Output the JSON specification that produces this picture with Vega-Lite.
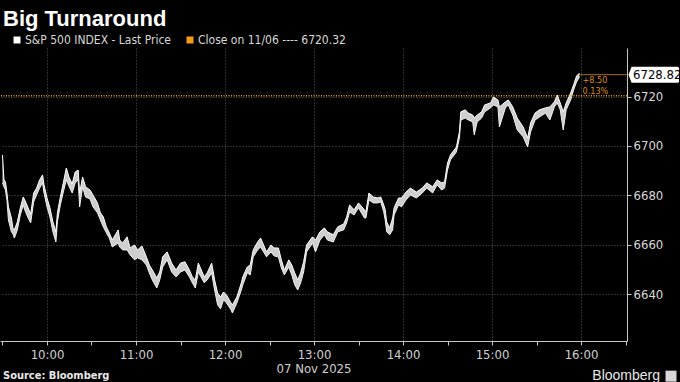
{
  "$schema": "https://vega.github.io/schema/vega-lite/v6.json",
  "width": 627,
  "height": 293,
  "autosize": {"type": "none"},
  "padding": {"left": 0, "top": 48, "right": 53, "bottom": 41},
  "background": "#000000",
  "config": {
    "view": {"stroke": null},
    "font": "Liberation Sans Narrow, DejaVu Sans Condensed, sans-serif"
  },
  "title": {
    "text": "Big Turnaround",
    "anchor": "start",
    "frame": "group",
    "orient": "top",
    "offset": 3,
    "dx": 3,
    "fontSize": 22,
    "fontWeight": "bold",
    "font": "Liberation Sans, Arial, sans-serif",
    "color": "#ffffff"
  },
  "datasets": {
    "price": [
      {"t": "2025-11-07T09:30", "hi": 6696.4, "lo": 6685.1},
      {"t": "2025-11-07T09:31", "hi": 6686.3, "lo": 6683.5},
      {"t": "2025-11-07T09:32", "hi": 6685.5, "lo": 6682.2},
      {"t": "2025-11-07T09:33", "hi": 6681.0, "lo": 6678.2},
      {"t": "2025-11-07T09:34", "hi": 6675.4, "lo": 6670.1},
      {"t": "2025-11-07T09:36", "hi": 6670.9, "lo": 6665.3},
      {"t": "2025-11-07T09:37", "hi": 6666.9, "lo": 6664.5},
      {"t": "2025-11-07T09:38", "hi": 6666.1, "lo": 6662.8},
      {"t": "2025-11-07T09:40", "hi": 6669.3, "lo": 6666.1},
      {"t": "2025-11-07T09:42", "hi": 6675.0, "lo": 6672.1},
      {"t": "2025-11-07T09:44", "hi": 6679.4, "lo": 6676.2},
      {"t": "2025-11-07T09:45", "hi": 6678.2, "lo": 6674.2},
      {"t": "2025-11-07T09:47", "hi": 6675.4, "lo": 6671.3},
      {"t": "2025-11-07T09:49", "hi": 6672.5, "lo": 6668.9},
      {"t": "2025-11-07T09:51", "hi": 6681.0, "lo": 6677.4},
      {"t": "2025-11-07T09:53", "hi": 6683.0, "lo": 6680.2},
      {"t": "2025-11-07T09:55", "hi": 6686.3, "lo": 6683.0},
      {"t": "2025-11-07T09:57", "hi": 6688.3, "lo": 6685.1},
      {"t": "2025-11-07T09:58", "hi": 6684.3, "lo": 6681.0},
      {"t": "2025-11-07T10:00", "hi": 6679.0, "lo": 6675.4},
      {"t": "2025-11-07T10:02", "hi": 6675.0, "lo": 6671.3},
      {"t": "2025-11-07T10:04", "hi": 6669.3, "lo": 6665.3},
      {"t": "2025-11-07T10:06", "hi": 6665.3, "lo": 6661.2},
      {"t": "2025-11-07T10:07", "hi": 6673.0, "lo": 6669.3},
      {"t": "2025-11-07T10:09", "hi": 6679.4, "lo": 6676.2},
      {"t": "2025-11-07T10:11", "hi": 6685.1, "lo": 6681.4},
      {"t": "2025-11-07T10:13", "hi": 6691.1, "lo": 6686.3},
      {"t": "2025-11-07T10:15", "hi": 6687.1, "lo": 6683.5},
      {"t": "2025-11-07T10:17", "hi": 6684.7, "lo": 6681.0},
      {"t": "2025-11-07T10:19", "hi": 6689.5, "lo": 6685.1},
      {"t": "2025-11-07T10:21", "hi": 6690.3, "lo": 6686.3},
      {"t": "2025-11-07T10:22", "hi": 6681.0, "lo": 6675.4},
      {"t": "2025-11-07T10:24", "hi": 6687.5, "lo": 6683.5},
      {"t": "2025-11-07T10:26", "hi": 6683.5, "lo": 6679.4},
      {"t": "2025-11-07T10:29", "hi": 6682.2, "lo": 6678.6},
      {"t": "2025-11-07T10:31", "hi": 6680.2, "lo": 6675.4},
      {"t": "2025-11-07T10:34", "hi": 6677.0, "lo": 6673.0},
      {"t": "2025-11-07T10:36", "hi": 6673.0, "lo": 6670.1},
      {"t": "2025-11-07T10:38", "hi": 6671.3, "lo": 6667.3},
      {"t": "2025-11-07T10:40", "hi": 6667.3, "lo": 6664.9},
      {"t": "2025-11-07T10:42", "hi": 6664.9, "lo": 6662.8},
      {"t": "2025-11-07T10:44", "hi": 6662.0, "lo": 6659.2},
      {"t": "2025-11-07T10:48", "hi": 6666.1, "lo": 6660.8},
      {"t": "2025-11-07T10:49", "hi": 6662.0, "lo": 6659.2},
      {"t": "2025-11-07T10:51", "hi": 6660.8, "lo": 6658.0},
      {"t": "2025-11-07T10:54", "hi": 6663.3, "lo": 6658.0},
      {"t": "2025-11-07T10:56", "hi": 6658.8, "lo": 6656.0},
      {"t": "2025-11-07T10:59", "hi": 6660.0, "lo": 6654.0},
      {"t": "2025-11-07T11:01", "hi": 6658.0, "lo": 6654.8},
      {"t": "2025-11-07T11:04", "hi": 6659.6, "lo": 6654.0},
      {"t": "2025-11-07T11:07", "hi": 6655.2, "lo": 6651.9},
      {"t": "2025-11-07T11:09", "hi": 6651.9, "lo": 6648.7},
      {"t": "2025-11-07T11:11", "hi": 6649.9, "lo": 6645.9},
      {"t": "2025-11-07T11:14", "hi": 6646.7, "lo": 6642.6},
      {"t": "2025-11-07T11:16", "hi": 6649.1, "lo": 6645.9},
      {"t": "2025-11-07T11:18", "hi": 6655.2, "lo": 6651.1},
      {"t": "2025-11-07T11:21", "hi": 6657.2, "lo": 6654.0},
      {"t": "2025-11-07T11:24", "hi": 6652.7, "lo": 6649.1},
      {"t": "2025-11-07T11:27", "hi": 6649.9, "lo": 6647.1},
      {"t": "2025-11-07T11:30", "hi": 6652.7, "lo": 6649.1},
      {"t": "2025-11-07T11:33", "hi": 6653.2, "lo": 6649.9},
      {"t": "2025-11-07T11:36", "hi": 6649.9, "lo": 6647.1},
      {"t": "2025-11-07T11:38", "hi": 6647.1, "lo": 6644.7},
      {"t": "2025-11-07T11:40", "hi": 6645.9, "lo": 6642.6},
      {"t": "2025-11-07T11:42", "hi": 6652.7, "lo": 6649.1},
      {"t": "2025-11-07T11:46", "hi": 6647.1, "lo": 6644.7},
      {"t": "2025-11-07T11:48", "hi": 6648.7, "lo": 6645.9},
      {"t": "2025-11-07T11:51", "hi": 6652.7, "lo": 6648.7},
      {"t": "2025-11-07T11:53", "hi": 6645.9, "lo": 6641.8},
      {"t": "2025-11-07T11:55", "hi": 6640.6, "lo": 6635.8},
      {"t": "2025-11-07T11:57", "hi": 6639.0, "lo": 6634.2},
      {"t": "2025-11-07T11:59", "hi": 6641.0, "lo": 6637.8},
      {"t": "2025-11-07T12:01", "hi": 6639.8, "lo": 6636.6},
      {"t": "2025-11-07T12:04", "hi": 6636.6, "lo": 6633.8},
      {"t": "2025-11-07T12:05", "hi": 6635.8, "lo": 6632.5},
      {"t": "2025-11-07T12:08", "hi": 6639.0, "lo": 6636.6},
      {"t": "2025-11-07T12:11", "hi": 6644.7, "lo": 6641.8},
      {"t": "2025-11-07T12:12", "hi": 6647.1, "lo": 6643.9},
      {"t": "2025-11-07T12:15", "hi": 6651.1, "lo": 6648.7},
      {"t": "2025-11-07T12:17", "hi": 6651.9, "lo": 6647.9},
      {"t": "2025-11-07T12:19", "hi": 6658.0, "lo": 6655.2},
      {"t": "2025-11-07T12:22", "hi": 6661.2, "lo": 6658.0},
      {"t": "2025-11-07T12:24", "hi": 6662.8, "lo": 6659.2},
      {"t": "2025-11-07T12:26", "hi": 6660.0, "lo": 6657.2},
      {"t": "2025-11-07T12:28", "hi": 6657.2, "lo": 6655.2},
      {"t": "2025-11-07T12:31", "hi": 6660.0, "lo": 6657.2},
      {"t": "2025-11-07T12:33", "hi": 6658.8, "lo": 6655.6},
      {"t": "2025-11-07T12:36", "hi": 6658.8, "lo": 6655.2},
      {"t": "2025-11-07T12:38", "hi": 6654.0, "lo": 6650.7},
      {"t": "2025-11-07T12:40", "hi": 6649.9, "lo": 6647.9},
      {"t": "2025-11-07T12:43", "hi": 6654.0, "lo": 6651.1},
      {"t": "2025-11-07T12:45", "hi": 6651.9, "lo": 6647.9},
      {"t": "2025-11-07T12:47", "hi": 6648.7, "lo": 6643.9},
      {"t": "2025-11-07T12:49", "hi": 6645.9, "lo": 6641.8},
      {"t": "2025-11-07T12:51", "hi": 6648.7, "lo": 6644.7},
      {"t": "2025-11-07T12:53", "hi": 6653.2, "lo": 6649.1},
      {"t": "2025-11-07T12:55", "hi": 6660.0, "lo": 6657.2},
      {"t": "2025-11-07T12:59", "hi": 6663.3, "lo": 6660.8},
      {"t": "2025-11-07T13:01", "hi": 6662.0, "lo": 6657.2},
      {"t": "2025-11-07T13:04", "hi": 6665.3, "lo": 6662.0},
      {"t": "2025-11-07T13:07", "hi": 6666.9, "lo": 6664.1},
      {"t": "2025-11-07T13:09", "hi": 6665.3, "lo": 6662.0},
      {"t": "2025-11-07T13:13", "hi": 6664.1, "lo": 6661.2},
      {"t": "2025-11-07T13:16", "hi": 6667.3, "lo": 6665.3},
      {"t": "2025-11-07T13:20", "hi": 6668.5, "lo": 6666.1},
      {"t": "2025-11-07T13:22", "hi": 6671.3, "lo": 6668.9},
      {"t": "2025-11-07T13:24", "hi": 6676.2, "lo": 6673.4},
      {"t": "2025-11-07T13:27", "hi": 6674.2, "lo": 6672.1},
      {"t": "2025-11-07T13:30", "hi": 6677.0, "lo": 6675.0},
      {"t": "2025-11-07T13:34", "hi": 6674.2, "lo": 6670.9},
      {"t": "2025-11-07T13:35", "hi": 6673.4, "lo": 6670.9},
      {"t": "2025-11-07T13:37", "hi": 6681.0, "lo": 6678.2},
      {"t": "2025-11-07T13:40", "hi": 6679.4, "lo": 6677.0},
      {"t": "2025-11-07T13:43", "hi": 6679.0, "lo": 6677.0},
      {"t": "2025-11-07T13:45", "hi": 6679.4, "lo": 6677.4},
      {"t": "2025-11-07T13:47", "hi": 6676.2, "lo": 6673.4},
      {"t": "2025-11-07T13:48", "hi": 6674.2, "lo": 6670.1},
      {"t": "2025-11-07T13:49", "hi": 6669.3, "lo": 6665.3},
      {"t": "2025-11-07T13:51", "hi": 6666.9, "lo": 6664.1},
      {"t": "2025-11-07T13:53", "hi": 6670.9, "lo": 6666.1},
      {"t": "2025-11-07T13:54", "hi": 6675.0, "lo": 6672.1},
      {"t": "2025-11-07T13:57", "hi": 6679.0, "lo": 6676.2},
      {"t": "2025-11-07T13:59", "hi": 6679.0, "lo": 6675.4},
      {"t": "2025-11-07T14:02", "hi": 6681.4, "lo": 6678.2},
      {"t": "2025-11-07T14:05", "hi": 6683.0, "lo": 6680.2},
      {"t": "2025-11-07T14:09", "hi": 6681.4, "lo": 6679.0},
      {"t": "2025-11-07T14:13", "hi": 6683.0, "lo": 6681.0},
      {"t": "2025-11-07T14:16", "hi": 6685.1, "lo": 6683.0},
      {"t": "2025-11-07T14:20", "hi": 6683.5, "lo": 6681.0},
      {"t": "2025-11-07T14:23", "hi": 6686.3, "lo": 6684.3},
      {"t": "2025-11-07T14:26", "hi": 6685.1, "lo": 6682.2},
      {"t": "2025-11-07T14:28", "hi": 6685.5, "lo": 6683.0},
      {"t": "2025-11-07T14:30", "hi": 6693.1, "lo": 6690.3},
      {"t": "2025-11-07T14:32", "hi": 6696.4, "lo": 6694.4},
      {"t": "2025-11-07T14:36", "hi": 6699.6, "lo": 6697.6},
      {"t": "2025-11-07T14:38", "hi": 6705.7, "lo": 6703.2},
      {"t": "2025-11-07T14:39", "hi": 6713.8, "lo": 6710.5},
      {"t": "2025-11-07T14:42", "hi": 6714.6, "lo": 6711.3},
      {"t": "2025-11-07T14:44", "hi": 6713.3, "lo": 6710.5},
      {"t": "2025-11-07T14:47", "hi": 6712.5, "lo": 6709.7},
      {"t": "2025-11-07T14:48", "hi": 6711.3, "lo": 6704.5},
      {"t": "2025-11-07T14:50", "hi": 6712.5, "lo": 6709.7},
      {"t": "2025-11-07T14:53", "hi": 6713.8, "lo": 6711.3},
      {"t": "2025-11-07T14:55", "hi": 6716.6, "lo": 6713.8},
      {"t": "2025-11-07T14:59", "hi": 6717.4, "lo": 6715.4},
      {"t": "2025-11-07T15:01", "hi": 6719.8, "lo": 6716.6},
      {"t": "2025-11-07T15:04", "hi": 6718.6, "lo": 6715.8},
      {"t": "2025-11-07T15:05", "hi": 6715.8, "lo": 6707.7},
      {"t": "2025-11-07T15:09", "hi": 6717.8, "lo": 6715.4},
      {"t": "2025-11-07T15:11", "hi": 6718.6, "lo": 6716.6},
      {"t": "2025-11-07T15:14", "hi": 6715.8, "lo": 6712.5},
      {"t": "2025-11-07T15:17", "hi": 6711.3, "lo": 6706.5},
      {"t": "2025-11-07T15:21", "hi": 6707.7, "lo": 6703.7},
      {"t": "2025-11-07T15:24", "hi": 6703.2, "lo": 6699.6},
      {"t": "2025-11-07T15:26", "hi": 6709.3, "lo": 6705.7},
      {"t": "2025-11-07T15:29", "hi": 6713.3, "lo": 6710.5},
      {"t": "2025-11-07T15:32", "hi": 6714.6, "lo": 6711.7},
      {"t": "2025-11-07T15:36", "hi": 6715.4, "lo": 6713.3},
      {"t": "2025-11-07T15:39", "hi": 6715.8, "lo": 6710.5},
      {"t": "2025-11-07T15:42", "hi": 6717.8, "lo": 6715.8},
      {"t": "2025-11-07T15:44", "hi": 6720.6, "lo": 6717.4},
      {"t": "2025-11-07T15:46", "hi": 6717.4, "lo": 6714.6},
      {"t": "2025-11-07T15:48", "hi": 6713.8, "lo": 6706.5},
      {"t": "2025-11-07T15:50", "hi": 6717.4, "lo": 6714.6},
      {"t": "2025-11-07T15:53", "hi": 6721.4, "lo": 6718.6},
      {"t": "2025-11-07T15:55", "hi": 6724.7, "lo": 6722.6},
      {"t": "2025-11-07T15:57", "hi": 6728.3, "lo": 6725.9},
      {"t": "2025-11-07T15:59", "hi": 6729.5, "lo": 6728.0}
    ]
  },
  "layer": [
    {
      "data": {"name": "price"},
      "mark": {"type": "area", "fill": "#cfcfcf", "interpolate": "linear"},
      "encoding": {
        "x": {
          "field": "t",
          "type": "temporal",
          "scale": {
            "domain": [
              {"year": 2025, "month": 11, "date": 7, "hours": 9, "minutes": 28, "seconds": 19},
              {"year": 2025, "month": 11, "date": 7, "hours": 16, "minutes": 31}
            ]
          },
          "axis": {
            "orient": "bottom",
            "values": [
              {"year": 2025, "month": 11, "date": 7, "hours": 9, "minutes": 30},
              {"year": 2025, "month": 11, "date": 7, "hours": 10, "minutes": 0},
              {"year": 2025, "month": 11, "date": 7, "hours": 10, "minutes": 30},
              {"year": 2025, "month": 11, "date": 7, "hours": 11, "minutes": 0},
              {"year": 2025, "month": 11, "date": 7, "hours": 11, "minutes": 30},
              {"year": 2025, "month": 11, "date": 7, "hours": 12, "minutes": 0},
              {"year": 2025, "month": 11, "date": 7, "hours": 12, "minutes": 30},
              {"year": 2025, "month": 11, "date": 7, "hours": 13, "minutes": 0},
              {"year": 2025, "month": 11, "date": 7, "hours": 13, "minutes": 30},
              {"year": 2025, "month": 11, "date": 7, "hours": 14, "minutes": 0},
              {"year": 2025, "month": 11, "date": 7, "hours": 14, "minutes": 30},
              {"year": 2025, "month": 11, "date": 7, "hours": 15, "minutes": 0},
              {"year": 2025, "month": 11, "date": 7, "hours": 15, "minutes": 30},
              {"year": 2025, "month": 11, "date": 7, "hours": 16, "minutes": 0},
              {"year": 2025, "month": 11, "date": 7, "hours": 16, "minutes": 30}
            ],
            "labelExpr": "minutes(datum.value) == 0 ? timeFormat(datum.value, '%H:%M') : ''",
            "grid": true,
            "gridColor": "#5a5a5a",
            "gridDash": [1, 2],
            "gridOpacity": {"condition": {"test": "minutes(datum.value) == 0", "value": 1}, "value": 0},
            "domainColor": "#c8c8c8",
            "tickColor": "#c8c8c8",
            "tickSize": 4,
            "labelColor": "#d0d0d0",
            "labelFontSize": 13,
            "labelPadding": 3,
            "labelFlush": false,
            "title": "07 Nov 2025",
            "titleColor": "#d0d0d0",
            "titleFontSize": 13,
            "titleFontWeight": "normal",
            "titlePadding": 1
          }
        },
        "y": {
          "field": "lo",
          "type": "quantitative",
          "scale": {"domain": [6621.2, 6739.6], "nice": false, "zero": false},
          "axis": {
            "orient": "right",
            "values": [6640, 6660, 6680, 6700, 6720],
            "format": "d",
            "grid": true,
            "gridColor": "#5a5a5a",
            "gridDash": [1, 2],
            "domainColor": "#c8c8c8",
            "tickColor": "#c8c8c8",
            "tickSize": 4,
            "labelColor": "#d8d8d8",
            "labelFontSize": 13,
            "labelPadding": 2,
            "title": null
          }
        },
        "y2": {"field": "hi"}
      }
    },
    {
      "data": {"name": "price"},
      "mark": {"type": "line", "strokeWidth": 1, "interpolate": "linear"},
      "encoding": {
        "x": {"field": "t", "type": "temporal"},
        "y": {"field": "hi", "type": "quantitative"},
        "color": {
          "datum": "S&P 500 INDEX - Last Price",
          "type": "nominal",
          "scale": {
            "domain": ["S&P 500 INDEX - Last Price", "Close on 11/06 ---- 6720.32"],
            "range": ["#ffffff", "#f29d12"]
          },
          "legend": {
            "orient": "none",
            "legendX": 11,
            "legendY": -14,
            "direction": "horizontal",
            "title": null,
            "symbolType": "square",
            "symbolSize": 49,
            "symbolStrokeWidth": 0,
            "labelFontSize": 12,
            "labelColor": "#d8d8d8",
            "labelOffset": 2,
            "columnPadding": 12,
            "padding": 0,
            "encode": {"symbols": {"update": {"fill": {"scale": "color", "field": "value"}, "opacity": {"value": 1}}}}
          }
        }
      }
    },
    {
      "data": {"name": "price"},
      "mark": {"type": "line", "strokeWidth": 1, "stroke": "#f0f0f0", "interpolate": "linear"},
      "encoding": {
        "x": {"field": "t", "type": "temporal"},
        "y": {"field": "lo", "type": "quantitative"}
      }
    },
    {
      "data": {"values": [{"close": 6720.32}]},
      "mark": {"type": "rule", "strokeWidth": 1.5, "strokeDash": [1, 1.5]},
      "encoding": {
        "y": {"field": "close", "type": "quantitative"},
        "color": {"datum": "Close on 11/06 ---- 6720.32", "type": "nominal"}
      }
    },
    {
      "data": {"values": [{"last": 6728.82}]},
      "mark": {"type": "rule", "strokeWidth": 1, "stroke": "#a8701c"},
      "encoding": {
        "x": {"datum": {"year": 2025, "month": 11, "date": 7, "hours": 15, "minutes": 59}, "type": "temporal"},
        "x2": {"datum": {"year": 2025, "month": 11, "date": 7, "hours": 16, "minutes": 31}},
        "y": {"field": "last", "type": "quantitative"}
      }
    },
    {
      "data": {"values": [{"last": 6728.82, "label": "+8.50"}]},
      "mark": {"type": "text", "align": "left", "baseline": "middle", "dx": 3, "dy": 5, "fontSize": 9, "color": "#d98a10"},
      "encoding": {
        "x": {"datum": {"year": 2025, "month": 11, "date": 7, "hours": 15, "minutes": 59}, "type": "temporal"},
        "y": {"field": "last", "type": "quantitative"},
        "text": {"field": "label"}
      }
    },
    {
      "data": {"values": [{"last": 6728.82, "label": "0.13%"}]},
      "mark": {"type": "text", "align": "left", "baseline": "middle", "dx": 3, "dy": 16, "fontSize": 9, "color": "#d98a10"},
      "encoding": {
        "x": {"datum": {"year": 2025, "month": 11, "date": 7, "hours": 15, "minutes": 59}, "type": "temporal"},
        "y": {"field": "last", "type": "quantitative"},
        "text": {"field": "label"}
      }
    },
    {
      "data": {"values": [{"last": 6728.82}]},
      "mark": {
        "type": "point",
        "shape": "M0.18,-0.32 L2.02,-0.32 Q2.08,-0.32 2.08,-0.26 L2.08,0.26 Q2.08,0.32 2.02,0.32 L0.18,0.32 L0.06,0 Z",
        "size": 2500,
        "filled": true,
        "fill": "#ffffff",
        "opacity": 1,
        "strokeWidth": 0
      },
      "encoding": {
        "x": {"datum": {"year": 2025, "month": 11, "date": 7, "hours": 16, "minutes": 31}, "type": "temporal"},
        "y": {"field": "last", "type": "quantitative"}
      }
    },
    {
      "data": {"values": [{"last": 6728.82, "label": "6728.82"}]},
      "mark": {"type": "text", "align": "left", "baseline": "middle", "dx": 6, "fontSize": 13, "color": "#000000"},
      "encoding": {
        "x": {"datum": {"year": 2025, "month": 11, "date": 7, "hours": 16, "minutes": 31}, "type": "temporal"},
        "y": {"field": "last", "type": "quantitative"},
        "text": {"field": "label"}
      }
    },
    {
      "data": {"values": [{"v": 6607, "label": "Source: Bloomberg"}]},
      "mark": {"type": "text", "align": "left", "baseline": "middle", "dx": 3, "fontSize": 11, "fontWeight": "bold", "font": "DejaVu Sans Condensed, sans-serif", "color": "#e8e8e8"},
      "encoding": {
        "x": {"datum": {"year": 2025, "month": 11, "date": 7, "hours": 9, "minutes": 28, "seconds": 19}, "type": "temporal"},
        "y": {"field": "v", "type": "quantitative"},
        "text": {"field": "label"}
      }
    },
    {
      "data": {"values": [{"v": 6607, "label": "Bloomberg"}]},
      "mark": {"type": "text", "align": "right", "baseline": "middle", "dx": 33, "fontSize": 14, "font": "Liberation Sans, Arial, sans-serif", "color": "#e8e8e8"},
      "encoding": {
        "x": {"datum": {"year": 2025, "month": 11, "date": 7, "hours": 16, "minutes": 31}, "type": "temporal"},
        "y": {"field": "v", "type": "quantitative"},
        "text": {"field": "label"}
      }
    },
    {
      "data": {"values": [{"v": 6607}]},
      "mark": {"type": "point", "shape": "square", "size": 121, "filled": true, "fill": "#d8d8d8", "opacity": 1, "xOffset": 44},
      "encoding": {
        "x": {"datum": {"year": 2025, "month": 11, "date": 7, "hours": 16, "minutes": 31}, "type": "temporal"},
        "y": {"field": "v", "type": "quantitative"}
      }
    }
  ]
}
